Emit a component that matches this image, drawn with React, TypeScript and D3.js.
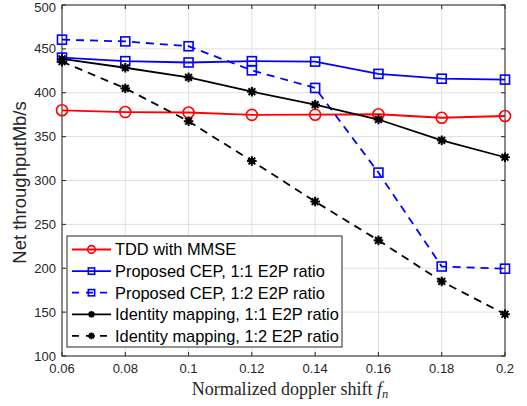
import React from "react";
import * as d3 from "d3";

const xValues = [0.06, 0.08, 0.1, 0.12, 0.14, 0.16, 0.18, 0.2];
const tddMmse = [380, 378, 377.5, 374.8, 375, 375.5, 371.5, 373.5];
const cep11 = [440, 436, 434.5, 436, 435.5, 421.5, 416, 415];
const cep12 = [460.5, 458.5, 453, 425.5, 405.5, 309, 202, 199.5];
const id11 = [438.5, 428.5, 417.5, 401.2, 386.5, 369.5, 345.8, 326.5];
const id12 = [435.5, 405, 367.5, 322.2, 276, 231.8, 185, 147.6];
const xTicks = [0.06, 0.08, 0.1, 0.12, 0.14, 0.16, 0.18, 0.2];
const yTicks = [100, 150, 200, 250, 300, 350, 400, 450, 500];
const seriesNames = [
  "TDD with MMSE",
  "Proposed CEP, 1:1 E2P ratio",
  "Proposed CEP, 1:2 E2P ratio",
  "Identity mapping, 1:1 E2P ratio",
  "Identity mapping, 1:2 E2P ratio",
];

const W = 527, H = 406;
const L = 62, R = 505, T = 5, B = 356;

type Marker = "circle" | "square" | "star";
const series = [
  { name: seriesNames[0], values: tddMmse, color: "#ff0000", dash: "", marker: "circle" as Marker },
  { name: seriesNames[1], values: cep11, color: "#0000ff", dash: "", marker: "square" as Marker },
  { name: seriesNames[2], values: cep12, color: "#0000ff", dash: "8,6", marker: "square" as Marker },
  { name: seriesNames[3], values: id11, color: "#000000", dash: "", marker: "star" as Marker },
  { name: seriesNames[4], values: id12, color: "#000000", dash: "8,6", marker: "star" as Marker },
];

function MarkerShape({ kind, x, y, color, scale = 1 }: { kind: Marker; x: number; y: number; color: string; scale?: number }) {
  if (kind === "circle") {
    return <circle cx={x} cy={y} r={5.5 * scale} fill="none" stroke={color} strokeWidth={1.6} />;
  }
  if (kind === "square") {
    const s = 4.5 * scale;
    return <rect x={x - s} y={y - s} width={2 * s} height={2 * s} fill="none" stroke={color} strokeWidth={1.6} />;
  }
  const r = 4.8 * scale;
  const d = r * 0.707;
  return (
    <g stroke={color} strokeWidth={2}>
      <line x1={x - r} y1={y} x2={x + r} y2={y} />
      <line x1={x} y1={y - r} x2={x} y2={y + r} />
      <line x1={x - d} y1={y - d} x2={x + d} y2={y + d} />
      <line x1={x - d} y1={y + d} x2={x + d} y2={y - d} />
      <circle cx={x} cy={y} r={3 * scale} fill={color} stroke="none" />
    </g>
  );
}

export default function App() {
  const x = d3.scaleLinear().domain([0.06, 0.2]).range([L, R]);
  const y = d3.scaleLinear().domain([100, 500]).range([B, T]);
  const line = d3
    .line<number>()
    .x((_, i) => x(xValues[i]))
    .y((v) => y(v));

  const legX = 67, legY = 236, legW = 275, legH = 111;
  const rowH = 21.6;
  const tickFont = "Liberation Sans, Arial, sans-serif";

  return (
    <svg width={W} height={H} style={{ position: "absolute", left: 0, top: 0, background: "#fff" }}>
      <rect x={0} y={0} width={W} height={H} fill="#fff" />
      {/* grid */}
      {xTicks.map((t) => (
        <line key={"gx" + t} x1={x(t)} x2={x(t)} y1={T} y2={B} stroke="#dfdfdf" strokeWidth={1} />
      ))}
      {yTicks.map((t) => (
        <line key={"gy" + t} x1={L} x2={R} y1={y(t)} y2={y(t)} stroke="#dfdfdf" strokeWidth={1} />
      ))}
      {/* axes box */}
      <rect x={L} y={T} width={R - L} height={B - T} fill="none" stroke="#262626" strokeWidth={1} />
      {xTicks.map((t) => (
        <g key={"tx" + t}>
          <line x1={x(t)} x2={x(t)} y1={B} y2={B - 4} stroke="#262626" />
          <line x1={x(t)} x2={x(t)} y1={T} y2={T + 4} stroke="#262626" />
          <text x={x(t)} y={B + 17} textAnchor="middle" fontFamily={tickFont} fontSize={13} fill="#262626">
            {String(t)}
          </text>
        </g>
      ))}
      {yTicks.map((t) => (
        <g key={"ty" + t}>
          <line x1={L} x2={L + 4} y1={y(t)} y2={y(t)} stroke="#262626" />
          <line x1={R} x2={R - 4} y1={y(t)} y2={y(t)} stroke="#262626" />
          <text x={L - 6} y={Math.max(y(t) + 4.5, 11.5)} textAnchor="end" fontFamily={tickFont} fontSize={13} fill="#262626">
            {t}
          </text>
        </g>
      ))}
      {/* series */}
      {series.map((s) => (
        <g key={s.name}>
          <path d={line(s.values) || ""} fill="none" stroke={s.color} strokeWidth={1.8} strokeDasharray={s.dash} />
          {s.values.map((v, i) => (
            <MarkerShape key={i} kind={s.marker} x={x(xValues[i])} y={y(v)} color={s.color} />
          ))}
        </g>
      ))}
      {/* labels */}
      <text
        transform={`translate(26, 182.5) rotate(-90)`}
        textAnchor="middle"
        fontFamily={tickFont}
        fontSize={18.5}
        fill="#262626"
      >
        Net throughputMb/s
      </text>
      <text x={290} y={395} textAnchor="middle" fontFamily="Liberation Serif, Times New Roman, serif" fontSize={18} fill="#262626">
        Normalized doppler shift <tspan fontStyle="italic">f</tspan>
        <tspan fontStyle="italic" fontSize={12.5} dy={3}>n</tspan>
      </text>
      {/* legend */}
      <rect x={legX} y={legY} width={legW} height={legH} fill="#fff" stroke="#262626" strokeWidth={1} />
      {series.map((s, i) => {
        const cy = legY + 13.5 + i * rowH;
        return (
          <g key={"leg" + i}>
            <line x1={72} x2={111} y1={cy} y2={cy} stroke={s.color} strokeWidth={1.8} strokeDasharray={s.dash ? "7,7" : ""} />
            <MarkerShape kind={s.marker} x={91.5} y={cy} color={s.color} scale={0.7} />
            <text x={115} y={cy + 5.8} fontFamily={tickFont} fontSize={16.4} fill="#000">
              {s.name}
            </text>
          </g>
        );
      })}
    </svg>
  );
}
